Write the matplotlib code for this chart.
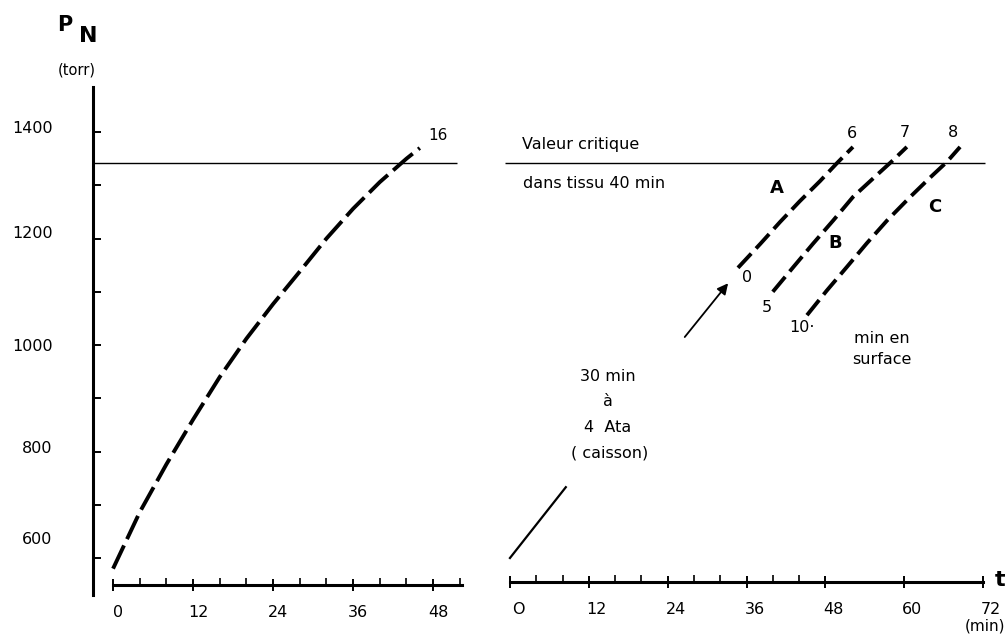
import matplotlib
matplotlib.use("Agg")
import matplotlib.pyplot as plt
from matplotlib.transforms import ScaledTranslation

plt.rcParams['font.family'] = ['DejaVu Sans']

# ---------------- data ----------------
left_t = [0, 4, 8, 12, 16, 20, 24, 28, 32, 36, 40, 44, 46]
left_p = [580, 686, 776, 860, 940, 1012, 1077, 1138, 1200, 1256, 1306, 1350, 1370]

a_t = [34.7, 38.1, 41.1, 44.1, 47.2, 49.8, 52.2]
a_p = [1145, 1190, 1231, 1270, 1308, 1342, 1372]
b_t = [40.0, 43.1, 46.1, 49.2, 52.2, 55.9, 58.3, 60.4]
b_p = [1100, 1146, 1190, 1234, 1278, 1320, 1347, 1372]
c_t = [45.2, 48.2, 51.3, 54.3, 57.4, 60.9, 63.9, 66.5, 68.5]
c_p = [1056, 1102, 1147, 1191, 1234, 1278, 1314, 1344, 1372]

caisson_t = [0, 8.5]
caisson_p = [600, 733]
arrow_t = [26.6, 33.2]
arrow_p = [1015, 1116]

critical_p = 1342

y_ticks = [600, 700, 800, 900, 1000, 1100, 1200, 1300, 1400]
y_ticklabels = ['600', '', '800', '', '1000', '', '1200', '', '1400']
left_xticks = [0, 12, 24, 36, 48]
left_xticklabels = ['0', '12', '24', '36', '48']
right_xticks = [0, 12, 24, 36, 48, 60, 72]
right_xticklabels = ['O', '12', '24', '36', '48', '60', '72']

# ---------------- figure ----------------
W, H = 1005, 639
fig = plt.figure(figsize=(W / 100, H / 100), dpi=100)


def rect(l, r, t, b):
    return [l / W, 1 - b / H, (r - l) / W, (b - t) / H]


axL = fig.add_axes(rect(89.7, 466.5, 84.1, 600.6))
axR = fig.add_axes(rect(500.1, 999.5, 84.1, 600.6), sharey=axL)

axL.set_xlim(-3.5, 53)
axR.set_xlim(-1.5, 74.5)
axL.set_ylim(520, 1490)

dash_kw = dict(color='black', lw=2.8, solid_capstyle='butt', dash_capstyle='butt')

# left panel
axL.plot(left_t, left_p, dashes=(6.6, 1.8), **dash_kw)
axL.hlines(critical_p, -3, 51.6, color='black', lw=1.0)
axL.text(48.7, 1394, '16', fontsize=11, ha='center', va='center')

# right panel
axR.plot(a_t, a_p, dashes=(5.0, 1.8), **dash_kw)
axR.plot(b_t, b_p, dashes=(5.0, 1.8), **dash_kw)
axR.plot(c_t, c_p, dashes=(5.0, 1.8), **dash_kw)
axR.plot(caisson_t, caisson_p, color='black', lw=1.6)
axR.annotate('', xy=(arrow_t[1], arrow_p[1]), xytext=(arrow_t[0], arrow_p[0]),
             arrowprops=dict(arrowstyle='-|>', color='black', lw=1.3,
                             mutation_scale=16, shrinkA=0, shrinkB=0))
axR.hlines(critical_p, -0.8, 72.3, color='black', lw=1.0)

fs = 11.5
axR.text(1.8, 1376, 'Valeur critique', fontsize=fs, ha='left', va='center')
axR.text(2.0, 1304, 'dans tissu 40 min', fontsize=fs, ha='left', va='center')
axR.text(40.6, 1295, 'A', fontsize=13, fontweight='bold', ha='center', va='center')
axR.text(49.5, 1192, 'B', fontsize=13, fontweight='bold', ha='center', va='center')
axR.text(64.7, 1259, 'C', fontsize=13, fontweight='bold', ha='center', va='center')
axR.text(36.1, 1126, '0', fontsize=fs, ha='center', va='center')
axR.text(39.1, 1071, '5', fontsize=fs, ha='center', va='center')
axR.text(44.4, 1032, '10·', fontsize=fs, ha='center', va='center')
axR.text(56.6, 1013, 'min en', fontsize=fs, ha='center', va='center')
axR.text(56.6, 972, 'surface', fontsize=fs, ha='center', va='center')
axR.text(52.1, 1398, '6', fontsize=fs, ha='center', va='center')
axR.text(60.1, 1400, '7', fontsize=fs, ha='center', va='center')
axR.text(67.4, 1400, '8', fontsize=fs, ha='center', va='center')
axR.text(14.9, 940, '30 min', fontsize=fs, ha='center', va='center')
axR.text(14.9, 893, 'à', fontsize=fs, ha='center', va='center')
axR.text(14.9, 846, '4  Ata', fontsize=fs, ha='center', va='center')
axR.text(15.2, 797, '( caisson)', fontsize=fs, ha='center', va='center')

# ---------------- axes styling ----------------
for s in ['top', 'right']:
    axL.spines[s].set_visible(False)
for s in ['top', 'right', 'left']:
    axR.spines[s].set_visible(False)

axL.spines['left'].set_position(('data', -3))
axL.spines['left'].set_bounds(530, 1484)
axL.spines['left'].set_linewidth(2.2)
axL.spines['bottom'].set_position(('data', 549))
axL.spines['bottom'].set_bounds(0, 52.4)
axL.spines['bottom'].set_linewidth(2.2)
axR.spines['bottom'].set_position(('data', 555))
axR.spines['bottom'].set_bounds(0, 72)
axR.spines['bottom'].set_linewidth(2.2)

axL.set_yticks(y_ticks)
axL.set_yticklabels(y_ticklabels)
axL.tick_params(axis='y', direction='in', length=6, width=1.4, pad=27, labelsize=11.5)
axR.tick_params(axis='y', left=False, labelleft=False)

axL.set_xticks(left_xticks)
axL.set_xticklabels(left_xticklabels)
axL.set_xticks([t for t in range(0, 53, 4) if t % 12 != 0], minor=True)
axL.tick_params(axis='x', which='major', direction='inout', length=8, width=1.4,
                pad=10, labelsize=11.5)
axL.tick_params(axis='x', which='minor', direction='in', length=5, width=1.2)

axR.set_xticks(right_xticks)
axR.set_xticklabels(right_xticklabels)
axR.set_xticks([t for t in range(0, 49, 4) if t % 12 != 0], minor=True)
axR.tick_params(axis='x', which='major', direction='inout', length=9, width=1.4,
                pad=10, labelsize=11.5)
axR.tick_params(axis='x', which='minor', direction='in', length=5, width=1.2)

# small offsets of hand-lettered tick labels
for lab in axL.get_xticklabels():
    lab.set_transform(lab.get_transform() + ScaledTranslation(0.05, 0, fig.dpi_scale_trans))
for lab in axR.get_xticklabels():
    lab.set_transform(lab.get_transform() + ScaledTranslation(0.08, 0, fig.dpi_scale_trans))
y_offsets = [0.20, 0, 0.05, 0, 0.0, 0, 0.07, 0, 0.05]
for lab, dy in zip(axL.get_yticklabels(), y_offsets):
    lab.set_transform(lab.get_transform() + ScaledTranslation(-0.03, dy, fig.dpi_scale_trans))

# axis titles
fig.text(65 / W, 1 - 25 / H, 'P', fontsize=15, fontweight='bold', ha='center', va='center')
fig.text(88 / W, 1 - 36 / H, 'N', fontsize=16, fontweight='bold', ha='center', va='center')
fig.text(77 / W, 1 - 70 / H, '(torr)', fontsize=10.5, ha='center', va='center')
fig.text(1000 / W, 1 - 580 / H, 't', fontsize=16, fontweight='bold', ha='center', va='center')
fig.text(985 / W, 1 - 626 / H, '(min)', fontsize=11, ha='center', va='center')

fig.savefig('out.png', dpi=100)
